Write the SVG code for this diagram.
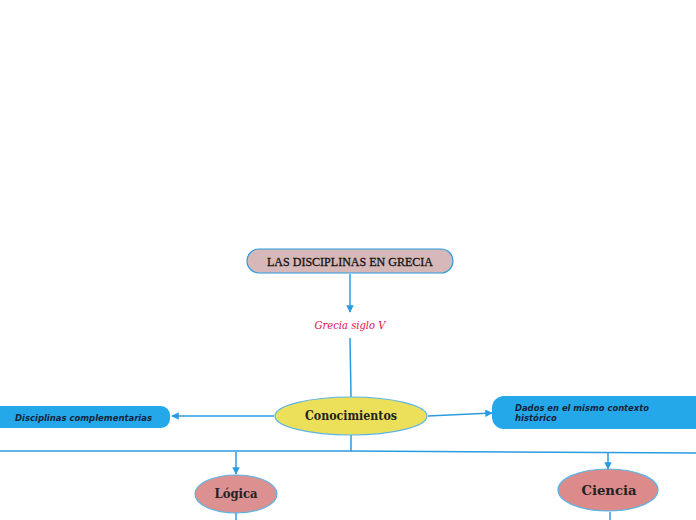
<svg xmlns="http://www.w3.org/2000/svg" width="696" height="520" viewBox="0 0 696 520">
<style>
.ln{stroke:#2b9be0;stroke-width:1.5;fill:none}
.ser{font-family:"DejaVu Serif","Liberation Serif",serif;font-weight:bold;fill:#222;text-anchor:middle}
.san{font-family:"DejaVu Sans",sans-serif;font-weight:bold;font-style:italic;fill:#14243a;font-size:8.5px}
</style>
<defs>
<marker id="ah" viewBox="0 0 10 10" refX="9" refY="5" markerWidth="5" markerHeight="5" orient="auto"><path d="M0,0L10,5L0,10z" fill="#2b9be0"/></marker>
</defs>
<rect width="696" height="520" fill="#fff"/>
<g id="connectors">
<line class="ln" x1="350" y1="274" x2="350" y2="312" marker-end="url(#ah)"/>
<line class="ln" x1="350" y1="338" x2="351" y2="397"/>
<line class="ln" x1="274" y1="416" x2="172" y2="416" marker-end="url(#ah)"/>
<line class="ln" x1="428" y1="416" x2="492" y2="413" marker-end="url(#ah)"/>
<polyline class="ln" points="351,435 351,451 0,451"/>
<polyline class="ln" points="351,451 696,453"/>
<line class="ln" x1="236" y1="452" x2="236" y2="474" marker-end="url(#ah)"/>
<line class="ln" x1="608" y1="453" x2="608" y2="469" marker-end="url(#ah)"/>
<line class="ln" x1="236" y1="513" x2="236" y2="520"/>
<line class="ln" x1="610" y1="512" x2="610" y2="520"/>
</g>
<g id="title">
<rect x="247" y="249" width="206" height="24" rx="12" fill="#d6b8b8" stroke="#2b9be0" stroke-width="1.2"/>
<text x="350" y="266" text-anchor="middle" font-family="Liberation Serif, serif" font-size="13" fill="#111" stroke="#111" stroke-width="0.3" textLength="166" lengthAdjust="spacingAndGlyphs">LAS DISCIPLINAS EN GRECIA</text>
</g>
<g id="grecia">
<text x="350" y="329" font-family="DejaVu Serif, serif" font-style="italic" font-size="11.5" fill="#e0104e" text-anchor="middle" textLength="71" lengthAdjust="spacingAndGlyphs">Grecia siglo V</text>
</g>
<g id="conocimientos">
<ellipse cx="351" cy="416" rx="76" ry="19" fill="#ece05a" stroke="#5ab4e6" stroke-width="1.2"/>
<text x="351" y="420" class="ser" font-size="12" textLength="92" lengthAdjust="spacingAndGlyphs">Conocimientos</text>
</g>
<g id="disciplinas">
<rect x="-12" y="406" width="182" height="22" rx="9" fill="#25a8ea"/>
<text x="15" y="421" class="san" textLength="137" lengthAdjust="spacingAndGlyphs">Disciplinas complementarias</text>
</g>
<g id="dados">
<rect x="492" y="396" width="220" height="33" rx="12" fill="#25a8ea"/>
<text x="515" y="411" class="san" textLength="134" lengthAdjust="spacingAndGlyphs">Dados en el mismo contexto</text>
<text x="515" y="421" class="san">histórico</text>
</g>
<g id="logica">
<ellipse cx="236" cy="494" rx="41" ry="19" fill="#dc9090" stroke="#5ab4e6" stroke-width="1.2"/>
<text x="236" y="498" class="ser" font-size="12" textLength="43" lengthAdjust="spacingAndGlyphs">Lógica</text>
</g>
<g id="ciencia">
<ellipse cx="608" cy="490" rx="50" ry="21" fill="#dc8a8a" stroke="#5ab4e6" stroke-width="1.2"/>
<text x="609" y="495" class="ser" font-size="13" textLength="55" lengthAdjust="spacingAndGlyphs">Ciencia</text>
</g>
</svg>
